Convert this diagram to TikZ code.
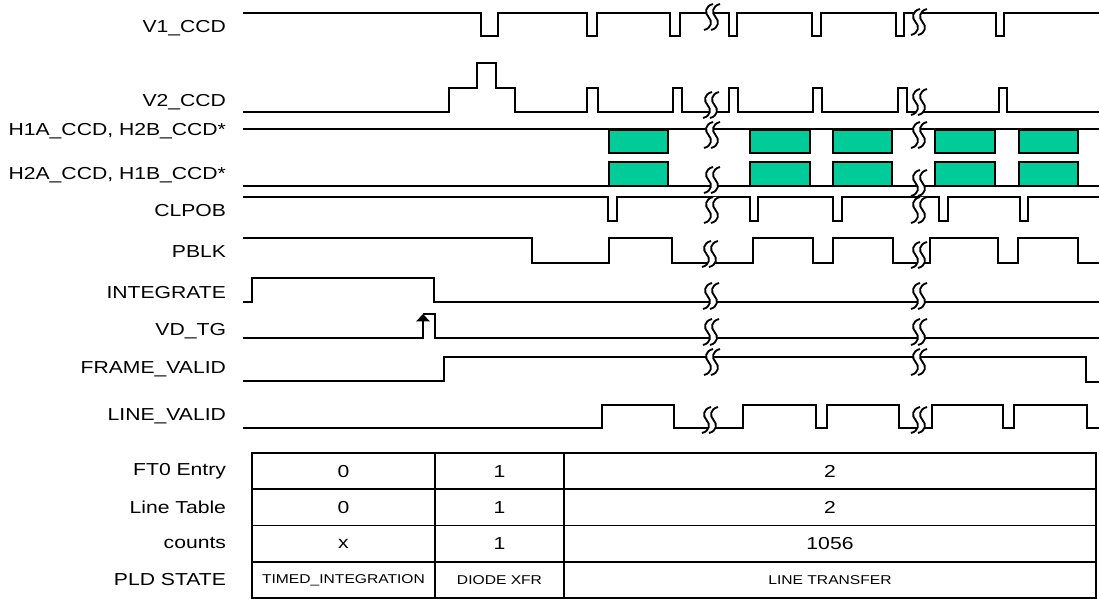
\documentclass[tikz,border=0pt]{standalone}
\usepackage{fontspec}
\setmainfont{Liberation Sans}[FakeStretch=1.22]
\usetikzlibrary{arrows.meta}
\definecolor{pixgreen}{RGB}{0,204,153}
\newcommand{\sigfont}{\fontsize{13}{14}\selectfont}
\newcommand{\statefont}{\fontsize{9.6}{11}\selectfont}
\tikzset{
  x=0.75pt,
  y=-0.75pt,
  every node/.style={inner sep=0mm,outer sep=0mm}
}
\tikzset{wave/.style={line width=1.2pt,line join=miter}}
\tikzset{signame/.style={anchor=east,font=\sigfont}}
\tikzset{pixbox/.style={draw,fill=pixgreen,line width=2pt}}
\tikzset{brkline/.style={line width=1.4pt}}
\tikzset{cell/.style={
    draw,
    line width=1.4pt,
    minimum width=#1*0.75pt,
    minimum height=27.19pt,
    font=\sigfont
  },
  cell/.default=100}
\tikzset{statecell/.style={cell=#1,font=\statefont}}
\newcommand{\wavebreak}[2]{%
  \fill[white] (#1+1,#2-13) .. controls (#1-7,#2-11) and (#1-7.5,#2-4) .. (#1-3.5,#2)
    .. controls (#1+0.5,#2+4) and (#1,#2+11) .. (#1-8,#2+13)
    -- (#1-1,#2+13) .. controls (#1+7,#2+11) and (#1+7.5,#2+4) .. (#1+3.5,#2)
    .. controls (#1-0.5,#2-4) and (#1,#2-11) .. (#1+8,#2-13) -- cycle;
  \draw[brkline] (#1+1,#2-13) .. controls (#1-7,#2-11) and (#1-7.5,#2-4) .. (#1-3.5,#2)
    .. controls (#1+0.5,#2+4) and (#1,#2+11) .. (#1-8,#2+13);
  \draw[brkline] (#1+8,#2-13) .. controls (#1,#2-11) and (#1-0.5,#2-4) .. (#1+3.5,#2)
    .. controls (#1+7.5,#2+4) and (#1+7,#2+11) .. (#1-1,#2+13);
}

\begin{document}
\begin{tikzpicture}
  \useasboundingbox (0,0) rectangle (1100,599);

  \node (nV1)    [signame] at (226,28)  {V1\_CCD};
  \node (nV2)    [signame] at (226,102) {V2\_CCD};
  \node (nH1)    [signame] at (226,131) {H1A\_CCD, H2B\_CCD*};
  \node (nH2)    [signame] at (226,175) {H2A\_CCD, H1B\_CCD*};
  \node (nClp)   [signame] at (226,211) {CLPOB};
  \node (nPblk)  [signame] at (226,252) {PBLK};
  \node (nInt)   [signame] at (226,293) {INTEGRATE};
  \node (nVd)    [signame] at (226,331) {VD\_TG};
  \node (nFrame) [signame] at (226,369) {FRAME\_VALID};
  \node (nLine)  [signame] at (226,416) {LINE\_VALID};

  \draw [wave] (243,13) -- (481,13) -- (481,36) -- (498,36) -- (498,13) -- (587,13) -- (587,36) -- (597,36) -- (597,13)
    -- (670,13) -- (670,36) -- (680,36) -- (680,13) -- (729,13) -- (729,36) -- (737,36) -- (737,13)
    -- (812,13) -- (812,36) -- (821,36) -- (821,13) -- (896,13) -- (896,36) -- (904,36) -- (904,13)
    -- (996,13) -- (996,36) -- (1004,36) -- (1004,13) -- (1099,13);
  \draw [wave] (243,112) -- (449,112) -- (449,88) -- (477,88) -- (477,63) -- (496,63) -- (496,88) -- (515,88) -- (515,112)
    -- (587,112) -- (587,88) -- (598,88) -- (598,112) -- (673,112) -- (673,88) -- (682,88) -- (682,112)
    -- (729,112) -- (729,88) -- (738,88) -- (738,112) -- (813,112) -- (813,88) -- (822,88) -- (822,112)
    -- (898,112) -- (898,88) -- (907,88) -- (907,112) -- (999,112) -- (999,88) -- (1007,88) -- (1007,112) -- (1099,112);
  \draw [wave] (243,129) -- (1099,129);
  \draw [wave] (243,186) -- (1099,186);
  \foreach \a/\b in {609/668,750/810,833/892,935/995,1019/1078}{
    \draw [pixbox] (\a,130) rectangle (\b,153);
    \draw [pixbox] (\a,162) rectangle (\b,186);
  }
  \draw [wave] (243,197) -- (608,197) -- (608,221) -- (617,221) -- (617,197) -- (750,197) -- (750,221) -- (758,221) -- (758,197)
    -- (833,197) -- (833,221) -- (842,221) -- (842,197) -- (939,197) -- (939,221) -- (948,221) -- (948,197)
    -- (1020,197) -- (1020,221) -- (1028,221) -- (1028,197) -- (1099,197);
  \draw [wave] (243,238) -- (532,238) -- (532,263) -- (609,263) -- (609,238) -- (672,238) -- (672,263) -- (753,263) -- (753,238)
    -- (813,238) -- (813,263) -- (833,263) -- (833,238) -- (893,238) -- (893,263) -- (930,263) -- (930,238)
    -- (998,238) -- (998,263) -- (1018,263) -- (1018,238) -- (1078,238) -- (1078,263) -- (1099,263);
  \draw [wave] (243,302) -- (252,302) -- (252,278) -- (434,278) -- (434,302) -- (1099,302);
  \draw [wave,-{Triangle[width=10pt,length=5.5pt]}] (243,338) -- (423,338) -- (423,314);
  \draw [wave] (423,314) -- (435,314) -- (435,338) -- (1099,338);
  \draw [wave] (243,381) -- (444,381) -- (444,357) -- (1086,357) -- (1086,382) -- (1099,382);
  \draw [wave] (243,428) -- (602,428) -- (602,405) -- (674,405) -- (674,428) -- (743,428) -- (743,405) -- (816,405) -- (816,428)
    -- (827,428) -- (827,405) -- (899,405) -- (899,428) -- (932,428) -- (932,405) -- (1003,405) -- (1003,428)
    -- (1014,428) -- (1014,405) -- (1087,405) -- (1087,428) -- (1099,428);

  \foreach \p/\q/\r in {17/22/712,105/102/711,135/135/712,180/183/712,210/210/712,254/255/710,296/296/711,332/332/711,362/362/712,420/420/710}{
    \wavebreak{\r}{\p}
    \wavebreak{919}{\q}
  }

  \node (nFt)    [signame] at (226,471) {FT0 Entry};
  \node (nTab)   [signame] at (226,507) {Line Table};
  \node (nCnt)   [signame] at (226,543) {counts};
  \node (nState) [signame] at (226,580) {PLD STATE};

  \node (ftA) [cell=183] at (343.5,471.1) {0};
  \node (ftB) [cell=129] at (499.5,471.1) {1};
  \node (ftC) [cell=532] at (830,471.1)   {2};
  \node (ltA) [cell=183] at (343.5,507.4) {0};
  \node (ltB) [cell=129] at (499.5,507.4) {1};
  \node (ltC) [cell=532] at (830,507.4)   {2};
  \node (ctA) [cell=183] at (343.5,543.6) {x};
  \node (ctB) [cell=129] at (499.5,543.6) {1};
  \node (ctC) [cell=532] at (830,543.6)   {1056};
  \node (stA) [statecell=183] at (343.5,579.9) {TIMED\_INTEGRATION};
  \node (stB) [statecell=129] at (499.5,579.9) {DIODE XFR};
  \node (stC) [statecell=532] at (830,579.9)   {LINE TRANSFER};
\end{tikzpicture}
\end{document}
